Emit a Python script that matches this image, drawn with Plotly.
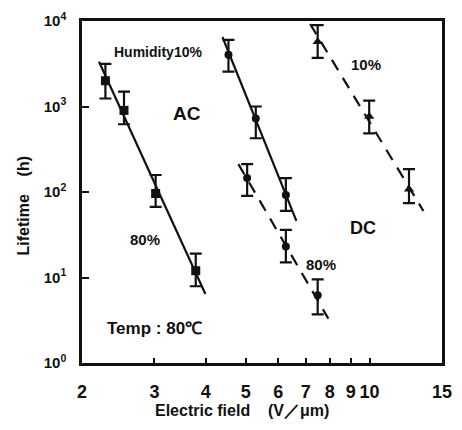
import numpy as np
import plotly.graph_objects as go

# ---- data ----
# AC, humidity 80% (solid line, squares)
ac80_x = [2.28, 2.53, 3.02, 3.78]
ac80_y = [2000, 900, 96, 12]
ac80_up = [3150, 1490, 158, 19]
ac80_lo = [1240, 620, 67, 7.9]
ac80_fit_x = [2.2, 3.99]
ac80_fit_y = [3330, 6.4]

# AC, humidity 10% (solid line, circles)
ac10_x = [4.54, 5.29, 6.26]
ac10_y = [4030, 724, 92]
ac10_up = [6000, 1000, 145]
ac10_lo = [2560, 425, 60]
ac10_fit_x = [4.39, 6.64]
ac10_fit_y = [6500, 46]

# DC, humidity 80% (dashed line)
dc80_x = [5.04, 6.26, 7.48]
dc80_y = [146, 23, 6.2]
dc80_up = [212, 36, 9.5]
dc80_lo = [90, 15, 3.7]
dc80_fit_x = [4.80, 7.94]
dc80_fit_y = [212, 3.3]

# DC, humidity 10% (dashed line)
dc10_x = [7.48, 9.98, 12.47]
dc10_y = [5700, 765, 108]
dc10_up = [8950, 1170, 185]
dc10_lo = [3700, 484, 74]
dc10_fit_x = [7.17, 13.52]
dc10_fit_y = [9230, 60]

x_ticks = [2, 3, 4, 5, 6, 7, 8, 9, 10, 15]
y_ticks = [1, 10, 100, 1000, 10000]
y_tick_text = ["10<sup>0</sup>", "10<sup>1</sup>", "10<sup>2</sup>", "10<sup>3</sup>", "10<sup>4</sup>"]

FONT = "Liberation Sans, Arial, sans-serif"
BLACK = "#111111"

fig = go.Figure()

def add_series(xs, ys, up, lo, fx, fy, dash, symbol, msize):
    fig.add_trace(go.Scatter(
        x=fx, y=fy, mode="lines",
        line=dict(color=BLACK, width=2.2, dash=dash),
        showlegend=False, hoverinfo="skip"))
    fig.add_trace(go.Scatter(
        x=xs, y=ys, mode="markers",
        marker=dict(symbol=symbol, size=msize, color=BLACK),
        error_y=dict(type="data", symmetric=False,
                     array=[u - v for u, v in zip(up, ys)],
                     arrayminus=[v - l for v, l in zip(ys, lo)],
                     color=BLACK, thickness=2.2, width=6),
        showlegend=False))

add_series(ac80_x, ac80_y, ac80_up, ac80_lo, ac80_fit_x, ac80_fit_y, "solid", "square", 9)
add_series(ac10_x, ac10_y, ac10_up, ac10_lo, ac10_fit_x, ac10_fit_y, "solid", "circle", 8)
add_series(dc80_x, dc80_y, dc80_up, dc80_lo, dc80_fit_x, dc80_fit_y, "12px,9px", "circle", 8)
add_series(dc10_x, dc10_y, dc10_up, dc10_lo, dc10_fit_x, dc10_fit_y, "12px,9px", "triangle-up", 9)

L, T, R, B = 82, 19, 452, 363
W, H = R - L, B - T

def px(xp, yp):
    return (xp - L) / W, (B - yp) / H

def note(text, xp, yp, size):
    ax, ay = px(xp, yp)
    fig.add_annotation(x=ax, y=ay, xref="paper", yref="paper", text=text,
                       showarrow=False, xanchor="center", yanchor="middle",
                       font=dict(family=FONT, size=size, color=BLACK, weight="bold"))

note("Humidity10%", 160, 50, 14)
note("AC", 190, 112, 19)
note("80%", 147, 239, 15)
note("Temp : 80℃", 157, 328, 17)
note("10%", 374, 63, 15)
note("DC", 371, 227, 18)
note("80%", 328, 264, 15)

# axis titles
ax_, ay_ = px(246, 411)
fig.add_annotation(x=ax_, y=ay_, xref="paper", yref="paper",
                   text="Electric field    (V／μm)", showarrow=False,
                   xanchor="center", yanchor="middle",
                   font=dict(family=FONT, size=16, color=BLACK, weight="bold"))
ax_, ay_ = px(22, 205)
fig.add_annotation(x=ax_, y=ay_, xref="paper", yref="paper",
                   text="Lifetime    (h)", showarrow=False, textangle=-90,
                   xanchor="center", yanchor="middle",
                   font=dict(family=FONT, size=16, color=BLACK, weight="bold"))

fig.update_xaxes(type="log", range=[np.log10(2), np.log10(15)],
                 tickvals=x_ticks, ticktext=[str(v) for v in x_ticks],
                 ticks="inside", ticklen=5, tickwidth=2, tickcolor=BLACK,
                 showline=True, linewidth=3, linecolor=BLACK, mirror=True,
                 showgrid=False, zeroline=False, ticklabelstandoff=10,
                 tickfont=dict(family=FONT, size=18, color=BLACK, weight="bold"))
fig.update_yaxes(type="log", range=[0, 4],
                 tickvals=y_ticks, ticktext=y_tick_text,
                 ticks="inside", ticklen=7, tickwidth=2, tickcolor=BLACK,
                 showline=True, linewidth=2.5, linecolor=BLACK, mirror=True,
                 showgrid=False, zeroline=False, ticklabelstandoff=10,
                 tickfont=dict(family=FONT, size=15, color=BLACK, weight="bold"))

fig.update_layout(width=462, height=430,
                  margin=dict(l=L, r=462 - R, t=T, b=430 - B),
                  paper_bgcolor="white", plot_bgcolor="white",
                  showlegend=False)

fig.write_html("out.html")
